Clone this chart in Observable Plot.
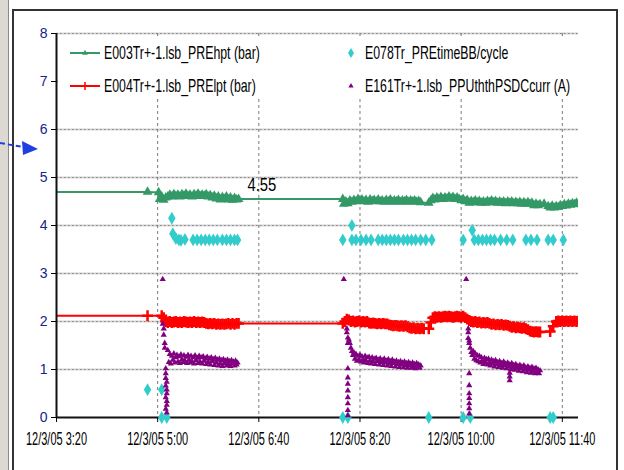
<!DOCTYPE html>
<html><head><meta charset="utf-8">
<script src="https://cdn.jsdelivr.net/npm/d3@7"></script>
<script src="https://cdn.jsdelivr.net/npm/@observablehq/plot@0.6"></script>
<style>
html,body{margin:0;padding:0;background:#fff;}
#wrap{position:relative;width:624px;height:470px;overflow:hidden;font-family:"Liberation Sans",Arial,sans-serif;}
#wrap > svg{position:absolute;left:0;top:0;}
.overlay{pointer-events:none;}
</style></head>
<body><div id="wrap"></div>
<script>
// ---------- axes ----------
const xDomain = ["3:20", "11:56"];
const xTickTimes = ["3:20", "5:00", "6:40", "8:20", "10:00", "11:40"];
const xTickLabels = ["12/3/05 3:20", "12/3/05 5:00", "12/3/05 6:40", "12/3/05 8:20", "12/3/05 10:00", "12/3/05 11:40"];
const yTicks = [0, 1, 2, 3, 4, 5, 6, 7, 8];

// ---------- legend ----------
const seriesNames = ["E003Tr+-1.lsb_PREhpt  (bar)", "E004Tr+-1.lsb_PRElpt  (bar)", "E078Tr_PREtimeBB/cycle", "E161Tr+-1.lsb_PPUththPSDCcurr  (A)"];
const seriesColors = ["#339966", "#ff0000", "#33cccc", "#800080"];

// ---------- E003 PREhpt (bar) ----------
const hptPoints1 = [["3:10", 4.70], ["4:50", 4.70], ["5:01", 4.69]];
const hptBand1 = [4.55, 4.60, 4.53, 4.58, 4.60, 4.64, 4.60, 4.65, 4.61, 4.64, 4.60, 4.65, 4.62, 4.66, 4.61, 4.64, 4.60, 4.65, 4.62, 4.66, 4.61, 4.64, 4.62, 4.65, 4.60, 4.63, 4.58, 4.62, 4.56, 4.60, 4.54, 4.59, 4.55, 4.60, 4.54, 4.58, 4.53, 4.57, 4.54, 4.55]; // 5:02.. every 2 min
const hptPoints2 = [["8:03", 4.55]];
const hptBand2 = [4.45, 4.50, 4.46, 4.52, 4.49, 4.53, 4.50, 4.55, 4.51, 4.54, 4.50, 4.53, 4.49, 4.54, 4.51, 4.53, 4.50, 4.54, 4.50, 4.52, 4.49, 4.53, 4.50, 4.54, 4.49, 4.52, 4.50, 4.53, 4.49, 4.52, 4.50, 4.53, 4.49, 4.52, 4.50, 4.52, 4.49, 4.51, 4.48]; // 8:04..
const hptPoints3 = [["9:28", 4.47]];
const hptBand3 = [4.52, 4.57, 4.54, 4.58, 4.55, 4.59, 4.55, 4.58, 4.56, 4.60, 4.56, 4.59, 4.55, 4.58, 4.55]; // 9:30..
const hptBand4 = [4.52, 4.55, 4.50, 4.53, 4.47, 4.51, 4.48, 4.52, 4.48, 4.51, 4.47, 4.50, 4.47, 4.51, 4.48, 4.52, 4.48, 4.51, 4.47, 4.50, 4.47, 4.50, 4.46, 4.50, 4.47, 4.50, 4.46, 4.49, 4.46, 4.49, 4.45, 4.48, 4.45, 4.48, 4.45, 4.47, 4.42, 4.45, 4.42, 4.44]; // 10:00..
const hptPoints4 = [["11:22", 4.45]];
const hptBand5 = [4.40, 4.37, 4.41, 4.37, 4.40, 4.38, 4.42, 4.40, 4.44, 4.41, 4.45, 4.43, 4.46, 4.44, 4.47, 4.46]; // 11:26..

// ---------- E004 PRElpt (bar) ----------
const lptPoints1 = [["3:10", 2.12], ["4:50", 2.12], ["5:04", 2.12], ["5:06", 2.08]];
const lptBand1 = [2.00, 1.98, 2.00, 1.98, 1.99, 2.00, 1.98, 1.99, 1.98, 2.00, 1.99, 1.98, 1.99, 1.98, 2.00, 1.98, 1.99, 1.98, 1.99, 1.98, 1.96, 1.95, 1.96, 1.95, 1.96, 1.94, 1.95, 1.94, 1.95, 1.94, 1.95, 1.96, 1.94, 1.96, 1.94, 1.96, 1.96]; // 5:08..
const lptPoints2 = [["8:03", 1.96]];
const lptBand2 = [2.00, 2.05, 2.03, 2.00, 2.01, 1.99, 2.00, 2.01, 1.99, 2.00, 1.99, 2.00, 1.97, 1.96, 1.97, 1.96, 1.95, 1.96, 1.95, 1.96, 1.95, 1.95, 1.93, 1.92, 1.91, 1.92, 1.91, 1.90, 1.91, 1.90, 1.91, 1.89, 1.87, 1.86, 1.87, 1.85, 1.86, 1.85, 1.86, 1.85]; // 8:05..
const lptPoints3 = [["9:28", 1.85]];
const lptBand3 = [1.98, 2.08, 2.10, 2.09, 2.10, 2.09, 2.10, 2.11, 2.10, 2.11, 2.10, 2.09, 2.10, 2.11, 2.10, 2.09, 2.11, 2.08, 2.05, 2.02, 2.00, 1.99, 2.00, 1.98, 1.99, 1.97, 1.98, 1.97, 1.98, 1.96, 1.94, 1.95, 1.93, 1.94, 1.93, 1.94, 1.92, 1.93, 1.92, 1.90, 1.88, 1.89, 1.87, 1.88, 1.87, 1.86, 1.87, 1.85, 1.83, 1.80, 1.79, 1.78, 1.79, 1.78, 1.78]; // 9:30..
const lptPoints4 = [["11:28", 1.79], ["11:31", 1.90]];
const lptBand4 = [2.00, 2.01, 2.00, 2.01, 2.00, 2.01, 2.00, 2.01, 2.00, 2.01, 2.00, 2.01]; // 11:34..

// ---------- E078 PREtimeBB/cycle ----------
const cycPoints = [["4:50", 0.58], ["5:04", 0.58], ["5:04", 0], ["5:09", 0], ["5:14", 4.15], ["5:15", 3.83], ["5:18", 3.73], ["5:21", 3.70], ["5:23", 3.69], ["5:27", 3.71], ["5:35", 3.70], ["5:39", 3.70], ["5:43", 3.70], ["5:47", 3.70], ["5:51", 3.70], ["5:55", 3.70], ["5:59", 3.70], ["6:04", 3.70], ["6:08", 3.70], ["6:12", 3.70], ["6:16", 3.70], ["6:19", 3.70],
  ["8:03", 3.70], ["8:03", 0], ["8:08", 0], ["8:12", 4.00], ["8:12", 3.70], ["8:16", 3.70], ["8:21", 3.70], ["8:26", 3.70], ["8:31", 3.70], ["8:38", 3.70], ["8:42", 3.70], ["8:46", 3.70], ["8:50", 3.70], ["8:54", 3.70], ["8:58", 3.70], ["9:03", 3.70], ["9:07", 3.70], ["9:11", 3.70], ["9:15", 3.70], ["9:20", 3.70], ["9:25", 3.70], ["9:31", 3.70], ["9:28", 0],
  ["10:02", 3.70], ["10:02", 0], ["10:09", 0], ["10:11", 3.90], ["10:13", 3.70], ["10:17", 3.70], ["10:21", 3.70], ["10:25", 3.70], ["10:29", 3.70], ["10:33", 3.70], ["10:39", 3.70], ["10:45", 3.70], ["10:51", 3.70], ["11:04", 3.70], ["11:09", 3.70], ["11:15", 3.70], ["11:26", 3.70], ["11:31", 3.70], ["11:41", 3.70], ["11:28", 0], ["11:31", 0]];

// ---------- E161 PPUththPSDCcurr (A) ----------
const curCol1 = [["5:05", 2.88], ["5:05", 1.95], ["5:06", 1.85], ["5:06", 1.72], ["5:07", 1.55], ["5:07", 1.45], ["5:08", 1.02], ["5:08", 0.92], ["5:08", 0.82], ["5:09", 0.74], ["5:08", 0.66], ["5:09", 0.58], ["5:09", 0.50], ["5:08", 0.42], ["5:09", 0.34], ["5:09", 0.26], ["5:08", 0.18], ["5:09", 0.10]];
const curBand1 = [1.40, 1.15, 1.32, 1.12, 1.28, 1.20, 1.33, 1.14, 1.25, 1.30, 1.16, 1.27, 1.13, 1.31, 1.21, 1.15, 1.29, 1.18, 1.26, 1.13, 1.30, 1.20, 1.14, 1.28, 1.17, 1.25, 1.12, 1.29, 1.19, 1.24, 1.13, 1.28, 1.16, 1.25, 1.12, 1.27, 1.18, 1.23, 1.11, 1.26, 1.15, 1.22, 1.10, 1.25, 1.17, 1.21, 1.09, 1.24, 1.14, 1.20, 1.08, 1.22, 1.12, 1.19, 1.07, 1.21, 1.13, 1.18, 1.08, 1.20, 1.11, 1.17, 1.07, 1.19, 1.12, 1.16, 1.08, 1.18, 1.10, 1.14]; // 5:10.. every min
const curCol2 = [["8:04", 2.88], ["8:07", 1.85], ["8:07", 1.77], ["8:08", 1.66], ["8:08", 1.55], ["8:08", 1.02], ["8:08", 0.83], ["8:08", 0.70], ["8:08", 0.56], ["8:08", 0.42], ["8:08", 0.29], ["8:08", 0.15], ["8:08", 0.04]];
const curBand2 = [1.62, 1.55, 1.45, 1.38, 1.30, 1.35, 1.22, 1.32, 1.18, 1.28, 1.20, 1.30, 1.16, 1.27, 1.21, 1.14, 1.28, 1.18, 1.25, 1.13, 1.26, 1.19, 1.12, 1.25, 1.16, 1.22, 1.11, 1.24, 1.17, 1.20, 1.10, 1.23, 1.15, 1.19, 1.09, 1.22, 1.14, 1.18, 1.08, 1.21, 1.12, 1.17, 1.07, 1.20, 1.13, 1.16, 1.06, 1.18, 1.11, 1.15, 1.05, 1.17, 1.10, 1.14, 1.04, 1.16, 1.09, 1.13, 1.03, 1.15, 1.08, 1.12, 1.03, 1.14, 1.06, 1.11, 1.02, 1.13, 1.07, 1.10, 1.03, 1.08]; // 8:09..
const curCol3 = [["10:05", 2.88], ["10:07", 1.85], ["10:07", 1.77], ["10:08", 1.60], ["10:08", 0.92], ["10:08", 0.67], ["10:08", 0.50], ["10:08", 0.40], ["10:08", 0.29], ["10:08", 0.19], ["10:08", 0.08]];
const curBand3 = [1.65, 1.55, 1.45, 1.36, 1.30, 1.38, 1.22, 1.33, 1.19, 1.29, 1.17, 1.28, 1.14, 1.25, 1.18, 1.11, 1.24, 1.15, 1.21, 1.10, 1.22, 1.14, 1.08, 1.20, 1.12, 1.17, 1.06, 1.19, 1.11, 1.15, 1.05, 1.17, 1.09, 1.13, 1.03, 1.16, 1.08, 1.12, 1.02, 1.14, 1.06, 1.10, 1.00, 1.13, 1.05, 1.09, 0.99, 1.11, 1.03, 1.07, 0.97, 1.09, 1.02, 1.06, 0.96, 1.08, 1.00, 1.04, 0.94, 1.06, 0.99, 1.03, 0.93, 1.05, 0.97, 1.02, 0.92, 1.03, 0.96, 1.00, 0.92, 0.98]; // 10:07..
const curOutlier = [["10:48", 0.93], ["10:48", 0.85], ["10:48", 0.77]];

// ---------- annotation ----------
const noteTimes = ["6:43"];
const noteValues = [4.55];
const noteLabels = ["4.55"];

// ---------- build ----------
function T(s) { const [h, m] = s.split(":").map(Number); return new Date(Date.UTC(2005, 11, 3, h, m)); }
const P = pairs => pairs.map(([s, v]) => ({t: T(s), v}));
const S = (start, vals, step) => vals.map((v, i) => ({t: new Date(+T(start) + i * step * 60000), v}));

const hpt = [...P(hptPoints1), ...S("5:02", hptBand1, 2), ...P(hptPoints2), ...S("8:04", hptBand2, 2), ...P(hptPoints3), ...S("9:30", hptBand3, 2), ...S("10:00", hptBand4, 2), ...P(hptPoints4), ...S("11:26", hptBand5, 2)];
const lpt = [...P(lptPoints1), ...S("5:08", lptBand1, 2), ...P(lptPoints2), ...S("8:05", lptBand2, 2), ...P(lptPoints3), ...S("9:30", lptBand3, 2), ...P(lptPoints4), ...S("11:34", lptBand4, 2)];
const cyc = P(cycPoints);
const cur = [...P(curCol1), ...S("5:10", curBand1, 1), ...P(curCol2), ...S("8:09", curBand2, 1), ...P(curCol3), ...S("10:07", curBand3, 1), ...P(curOutlier)];
const notes = noteTimes.map((s, i) => ({t: T(s), v: noteValues[i], label: noteLabels[i]}));

const xTickDates = xTickTimes.map(T);
const labelOf = new Map(xTickDates.map((d, i) => [+d, xTickLabels[i]]));
const [cG, cR, cC, cP] = seriesColors;

const chart = Plot.plot({
  width: 624, height: 470,
  marginLeft: 56, marginRight: 46, marginTop: 33, marginBottom: 53,
  style: {fontFamily: '"Liberation Sans", Arial, sans-serif', background: "transparent", color: "#000"},
  x: {type: "utc", domain: xDomain.map(T)},
  y: {domain: [0, 8]},
  marks: [
    Plot.ruleY(yTicks.filter(v => v > 0), {stroke: "#d2d2d2", strokeWidth: 2}),
    Plot.ruleY(yTicks.filter(v => v > 0), {stroke: "#858585", strokeWidth: 1, strokeDasharray: "1.5,2.5"}),
    Plot.ruleX(xTickDates.slice(1), {stroke: "#7a7a7a", strokeWidth: 1, strokeDasharray: "3,3"}),
    Plot.line(hpt, {x: "t", y: "v", stroke: cG, strokeWidth: 2, clip: true}),
    Plot.dot(hpt, {x: "t", y: "v", symbol: "triangle", r: 3.6, fill: cG, clip: true}),
    Plot.line(lpt, {x: "t", y: "v", stroke: cR, strokeWidth: 2, clip: true}),
    Plot.dot(lpt, {x: "t", y: "v", symbol: "plus", r: 3.6, stroke: cR, strokeWidth: 2.5, clip: true}),
    Plot.ruleY([0], {stroke: "#111", strokeWidth: 2}),
    Plot.ruleX([T(xDomain[0])], {stroke: "#111", strokeWidth: 2}),
    Plot.axisX(xTickDates, {tickSize: 5, tickPadding: 10, fontSize: 18, tickFormat: d => labelOf.get(+d), label: null, stroke: "#000", fill: "#000"}),
    Plot.axisY(yTicks, {tickSize: 5, tickPadding: 4, fontSize: 14, label: null, stroke: "#000", fill: "#20208a"}),
    Plot.dot(cyc, {x: "t", y: "v", symbol: "diamond", r: 3.9, fill: cC}),
    Plot.dot(cur, {x: "t", y: "v", symbol: "triangle", r: 2.3, fill: cP}),
    Plot.text(notes, {x: "t", y: "v", text: "label", dy: -14, fontSize: 19, fill: "#000"})
  ]
});

const wrap = document.getElementById("wrap");
wrap.append(chart);

// narrow the lettering horizontally (the reference uses a condensed face),
// scaling each text about its own anchor point via the SVG transform list
function squeeze(svg, sel, k) {
  svg.querySelectorAll(sel).forEach(t => {
    const before = t.getBoundingClientRect();
    const oldTransform = t.getAttribute("transform");
    const oldX = t.getAttribute("x"), oldY = t.getAttribute("y");
    const xl = t.x.baseVal, yl = t.y.baseVal;
    const x = xl.numberOfItems ? xl.getItem(0).value : 0;
    const y = yl.numberOfItems ? yl.getItem(0).value : 0;
    if (oldX !== null) t.setAttribute("x", 0);
    if (oldY !== null) t.setAttribute("y", 0);
    const list = t.transform.baseVal;
    const tr = svg.createSVGTransform(); tr.setTranslate(x, y); list.appendItem(tr);
    const sc = svg.createSVGTransform(); sc.setScale(k, 1); list.appendItem(sc);
    const after = t.getBoundingClientRect();
    const c0 = before.left + before.width / 2, c1 = after.left + after.width / 2;
    const anchor = getComputedStyle(t).textAnchor;
    const ok = Math.abs(after.top - before.top) < 3 && (anchor !== "middle" || Math.abs(c1 - c0) < 3);
    if (!ok) { // fall back to textLength
      if (oldTransform === null) t.removeAttribute("transform"); else t.setAttribute("transform", oldTransform);
      if (oldX !== null) t.setAttribute("x", oldX);
      if (oldY !== null) t.setAttribute("y", oldY);
      const w = t.getComputedTextLength();
      t.setAttribute("textLength", (w * k).toFixed(1));
      t.setAttribute("lengthAdjust", "spacingAndGlyphs");
    }
  });
}
squeeze(chart, 'g[aria-label="x-axis tick label"] text', 0.61);
squeeze(chart, 'g[aria-label="text"] text', 0.78);

// ---------- overlay: frame, legend, arrow ----------
const ov = d3.select(wrap).append("svg").attr("class", "overlay").attr("width", 624).attr("height", 470);
ov.append("rect").attr("x", 0).attr("y", 0).attr("width", 8).attr("height", 470).attr("fill", "#dcd9d2");
ov.append("line").attr("x1", 8.5).attr("x2", 8.5).attr("y1", 0).attr("y2", 470).attr("stroke", "#8a8a8a");
ov.append("rect").attr("x", 13).attr("y", 10).attr("width", 604).attr("height", 480).attr("fill", "none").attr("stroke", "#333").attr("stroke-width", 2);
ov.append("rect").attr("x", 58).attr("y", 38).attr("width", 523).attr("height", 61).attr("fill", "#fff");

const legPos = [[70, 53], [70, 86], [336, 53], [336, 86]];
seriesNames.forEach((name, i) => {
  const [lx, ly] = legPos[i];
  const g = ov.append("g");
  if (i < 2) {
    g.append("line").attr("x1", lx).attr("x2", lx + 30).attr("y1", ly).attr("y2", ly).attr("stroke", seriesColors[i]).attr("stroke-width", 2);
  }
  const sym = [d3.symbolTriangle, d3.symbolPlus, d3.symbolDiamond, d3.symbolTriangle][i];
  const size = [14, 24, 30, 12][i];
  const p = g.append("path").attr("d", d3.symbol(sym, size)()).attr("transform", `translate(${lx + 15},${ly})`);
  if (i === 1) p.attr("fill", "none").attr("stroke", seriesColors[i]).attr("stroke-width", 1.5);
  else p.attr("fill", seriesColors[i]);
  g.append("text").attr("x", i < 2 ? 104 : 365).attr("y", ly).attr("dy", "0.36em")
    .attr("font-size", 18).attr("font-family", '"Liberation Sans", Arial, sans-serif').attr("fill", "#000").text(name);
});
squeeze(ov.node(), "text", 0.685);

ov.append("line").attr("x1", 0).attr("y1", 143).attr("x2", 23).attr("y2", 147).attr("stroke", "#1f3fe0").attr("stroke-width", 2).attr("stroke-dasharray", "5,3");
ov.append("polygon").attr("points", "22,141 38,149 23,155").attr("fill", "#1f3fe0");
</script>
</body></html>
